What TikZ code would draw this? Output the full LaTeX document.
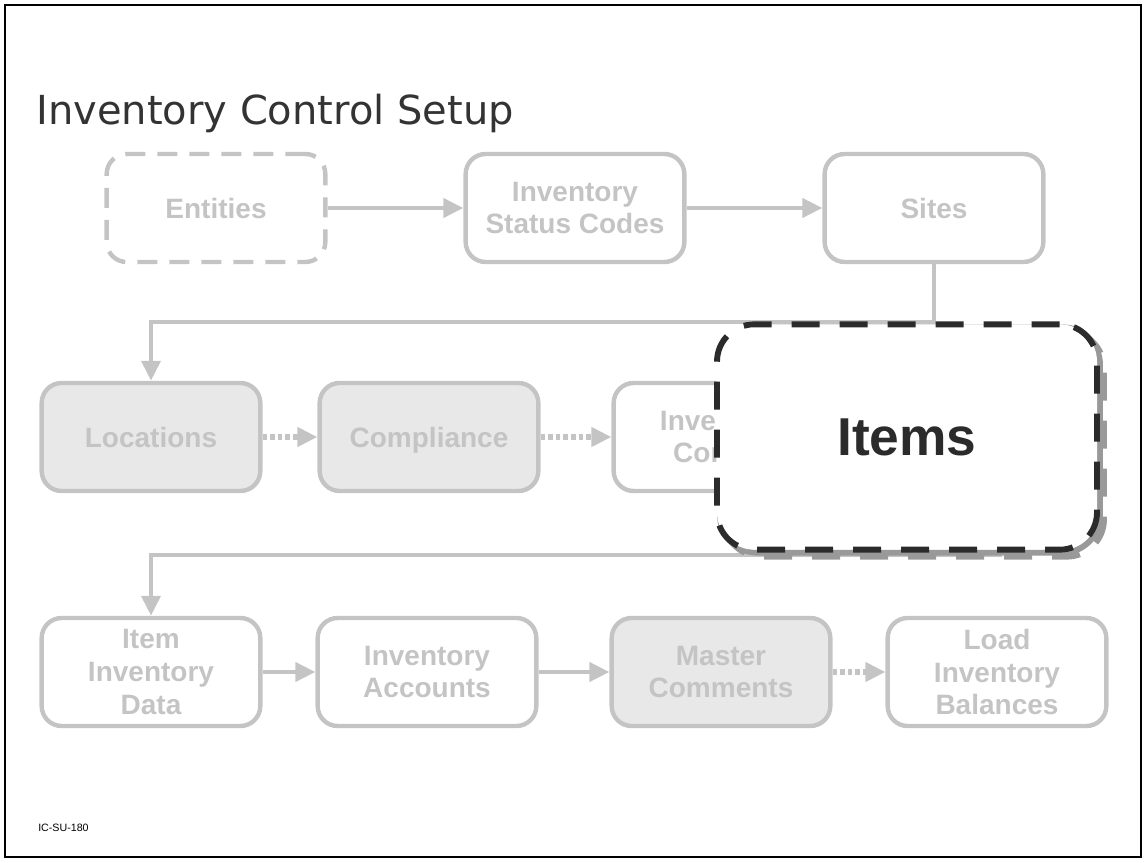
\documentclass[tikz,border=0pt]{standalone}
\usepackage{fontspec}
\setmainfont{Liberation Sans}
\newfontfamily\titlefont{DejaVu Sans}
\usetikzlibrary{arrows.meta}
\definecolor{boxgray}{HTML}{C4C4C4}
\definecolor{boxfill}{HTML}{E8E8E8}
\definecolor{ink}{HTML}{2B2B2B}
\definecolor{titleink}{HTML}{333333}
\definecolor{shade}{HTML}{999999}
\begin{document}
\begin{tikzpicture}[x=0.75pt,y=-0.75pt,
  stepbox/.style={draw=boxgray, line width=3.3pt, rounded corners=15pt,
    minimum width=164pt, minimum height=81pt, align=center, inner sep=0pt,
    text=boxgray, font=\fontsize{21}{24.4}\selectfont\bfseries},
  donebox/.style={stepbox, fill=boxfill},
  optbox/.style={stepbox, dash pattern=on 15pt off 9pt},
  flow/.style={draw=boxgray, line width=3.5pt, -{Triangle[length=15pt,width=14pt]}},
  optflow/.style={flow, line width=3.8pt, dash pattern=on 3.5pt off 2.2pt},
  focusframe/.style={line width=4.4pt, rounded corners=28pt,
    minimum width=285pt, minimum height=169pt, inner sep=0pt},
  focusbox/.style={focusframe, dash pattern=on 21pt off 15pt, draw=ink,
    fill=white, text=ink, font=\fontsize{40}{48}\selectfont\bfseries},
  focusshade/.style={focusframe, draw=shade},
  focusshadedash/.style={focusframe, draw=shade, dash pattern=on 21pt off 15pt}
]
\useasboundingbox (0,0) rectangle (1147,863);
\draw[line width=1.5pt] (5,5) rectangle (1141,857);

% heading and page code
\node[anchor=base west, inner sep=0pt, text=titleink,
  font=\titlefont\fontsize{30}{36}\selectfont] (title) at (36,125) {Inventory Control Setup};
\node[anchor=base west, inner sep=0pt, font=\fontsize{8}{10}\selectfont] (code) at (38,831) {IC-SU-180};

% first row
\node[optbox] (entities) at (216,208) {Entities};
\node[stepbox] (status) at (575,208) {Inventory\\Status Codes};
\node[stepbox] (sites) at (934,208) {Sites};

% second row
\node[donebox] (locations) at (151,437) {Locations};
\node[donebox, text depth=0pt] (compliance) at (429,437) {Compliance};
\node[stepbox] (invcontrol) at (723,437) {Inventory\\Control};

% third row
\node[stepbox] (itemdata) at (151,672) {Item\\Inventory\\Data};
\node[stepbox] (accounts) at (427,672) {Inventory\\Accounts};
\node[donebox] (master) at (721,672) {Master\\Comments};
\node[stepbox] (load) at (997,672) {Load\\Inventory\\Balances};

% flow between the steps
\coordinate (upperbus) at (0,322);
\coordinate (lowerbus) at (0,555);
\coordinate (rowtwoend) at (1000,493);
\draw[flow] (entities) -- (status);
\draw[flow] (status) -- (sites);
\draw[flow] (sites.south) -- (sites.south |- upperbus) -| (locations.north);
\draw[optflow] (locations) -- (compliance);
\draw[optflow] (compliance) -- (invcontrol);
\draw[flow] (rowtwoend) -- (rowtwoend |- lowerbus) -| (itemdata.north);
\draw[flow] (itemdata) -- (accounts);
\draw[flow] (accounts) -- (master);
\draw[optflow] (master) -- (load);

% highlighted step with its shadow
\node[focusshadedash] (itemsshadeouter) at (914,444) {};
\node[focusshade] (itemsshade) at (910,440) {};
\node[focusbox] (items) at (907,437) {Items};
\end{tikzpicture}
\end{document}
